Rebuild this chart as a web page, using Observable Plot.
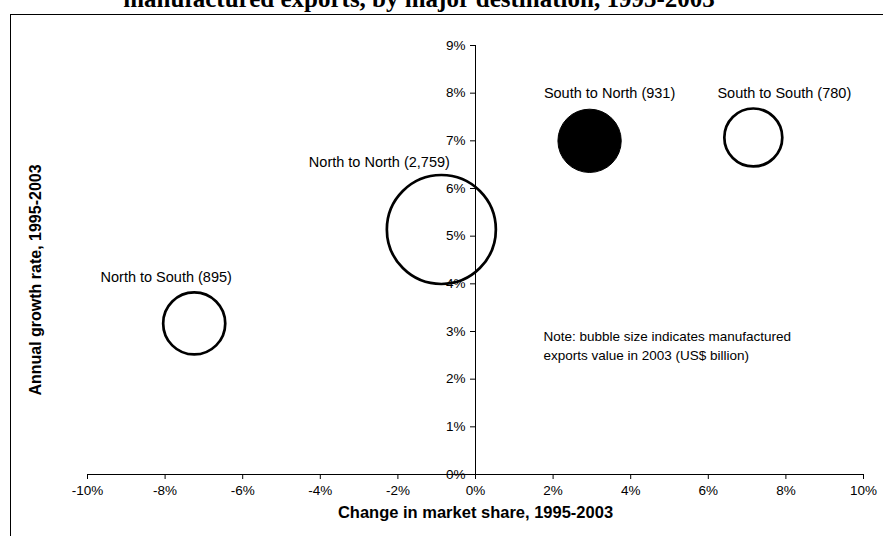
<!DOCTYPE html>
<html><head><meta charset="utf-8">
<script src="https://cdn.jsdelivr.net/npm/d3@7"></script>
<script src="https://cdn.jsdelivr.net/npm/@observablehq/plot@0.6"></script>
<style>
html,body{margin:0;padding:0;background:#fff;}
#wrap{position:relative;width:883px;height:536px;overflow:hidden;background:#fff;}
#title{position:absolute;left:0;width:838px;text-align:center;top:-15px;font:bold 25px "Liberation Serif","Times New Roman",serif;white-space:nowrap;color:#000;}
#frame{position:absolute;left:10px;top:14px;width:900px;height:600px;border-top:1.5px solid #000;border-left:1.5px solid #000;}
#chart{position:absolute;left:0;top:0;}
</style></head><body>
<div id="wrap"><div id="title">manufactured exports, by major destination, 1995-2003</div><div id="frame"></div><div id="chart"></div></div>
<script>
// Data
const flows = ["North to South", "North to North", "South to North", "South to South"];
const marketShareChange = [-7.25, -0.88, 2.94, 7.16];   // % change in market share, 1995-2003
const growthRate = [3.17, 5.14, 7.00, 7.07];            // % annual growth, 1995-2003
const exportsValue = [895, 2759, 931, 780];              // US$ billion, 2003
const valueLabels = ["895", "2,759", "931", "780"];
const highlighted = [false, false, true, false];
const xTicks = [-10, -8, -6, -4, -2, 0, 2, 4, 6, 8, 10];
const yTicks = [0, 1, 2, 3, 4, 5, 6, 7, 8, 9];
const xTitle = "Change in market share, 1995-2003";
const yTitle = "Annual growth rate, 1995-2003";
const noteText = "Note: bubble size indicates manufactured\nexports value in 2003 (US$ billion)";

const rows = flows.map((f, i) => ({
  flow: f, x: marketShareChange[i], y: growthRate[i], value: exportsValue[i],
  label: `${f} (${valueLabels[i]})`, hi: highlighted[i]
}));

// label offsets (px) for each bubble's label
const labelOffsets = [[-28, -46], [-62, -67], [20, -47], [31, -44]];

const font = '"Liberation Sans", Arial, Helvetica, sans-serif';

const marks = [
  Plot.ruleX([0], {y1: 0, y2: 9, stroke: "#000", strokeWidth: 1}),
  Plot.ruleY([0], {x1: -10, x2: 10, stroke: "#000", strokeWidth: 1}),
  Plot.ruleX(xTicks, {x: d => d, y1: 0, y2: 0, insetBottom: -5, stroke: "#000"}),
  Plot.ruleY(yTicks, {y: d => d, x1: 0, x2: 0, insetLeft: -5, stroke: "#000"}),
  Plot.text(xTicks, {x: d => d, y: 0, text: d => d + "%", dy: 16, fontSize: 13.5}),
  Plot.text(yTicks, {x: 0, y: d => d, text: d => d + "%", dx: -10, textAnchor: "end", fontSize: 13.5}),
  Plot.dot(rows.filter(d => !d.hi), {x: "x", y: "y", r: "value", fill: "white", fillOpacity: 0, stroke: "#000", strokeWidth: 2.7}),
  Plot.dot(rows.filter(d => d.hi), {x: "x", y: "y", r: "value", fill: "#000", stroke: "#000", strokeWidth: 1}),
  ...rows.map((d, i) => Plot.text([d], {x: "x", y: "y", text: "label", dx: labelOffsets[i][0], dy: labelOffsets[i][1], fontSize: 14.5})),
  Plot.text([noteText], {x: 1.75, y: 3.08, text: d => d, textAnchor: "start", lineAnchor: "top", lineHeight: 1.4, fontSize: 13.5}),
  Plot.text([xTitle], {frameAnchor: "bottom", dy: 43, text: d => d, textAnchor: "middle", fontWeight: "bold", fontSize: 16.5}),
  Plot.text([yTitle], {frameAnchor: "left", dx: -52, dy: 20, rotate: -90, text: d => d, textAnchor: "middle", fontWeight: "bold", fontSize: 16})
];

const chart = Plot.plot({
  width: 883, height: 536,
  marginLeft: 87, marginRight: 20, marginTop: 45, marginBottom: 62,
  x: {domain: [-10, 10], axis: null},
  y: {domain: [0, 9], axis: null},
  r: {type: "sqrt", domain: [0, 2759], range: [0, 54.5]},
  style: {fontFamily: font, fontSize: "13.5px", background: "transparent", color: "#000", overflow: "visible"},
  marks
});
document.getElementById("chart").appendChild(chart);
</script>
</body></html>
